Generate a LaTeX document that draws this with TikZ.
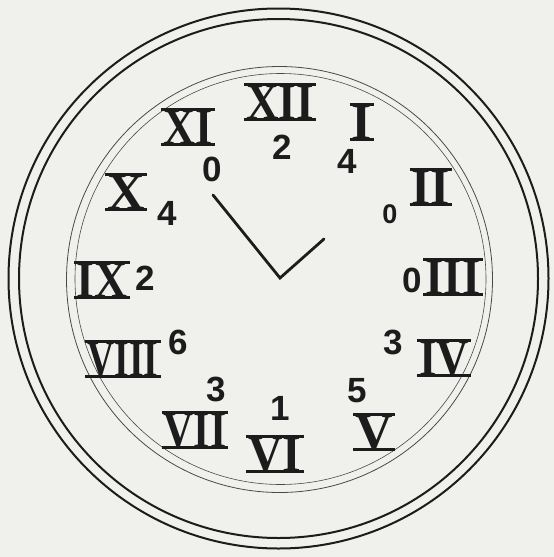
\documentclass[tikz,border=0pt]{standalone}
\usepackage{fontspec}
\setmainfont{Liberation Serif}
\newfontfamily\digitfont{Liberation Sans}
\usepackage{graphicx}
\definecolor{paper}{RGB}{240,240,237}
\definecolor{ink}{RGB}{28,28,28}
\newcommand\rsq[2]{\scalebox{#1}[1]{#2}}
\tikzset{
  numbar/.style={draw=ink, line width=2.4pt},
  romnum/.style={inner sep=0pt, text height=34.4pt, text depth=0pt, text=ink,
    font=\fontsize{52}{52}\selectfont\bfseries},
  digit/.style={inner sep=0pt, text height=25pt, text depth=0pt, text=ink,
    font=\digitfont\fontsize{35}{35}\selectfont\bfseries},
  smalldigit/.style={digit, text height=19.3pt, font=\digitfont\fontsize{27}{27}\selectfont\bfseries},
  rimline/.style={draw=ink, line width=2pt},
  faceline/.style={draw=ink!80, line width=0.8pt},
  hand/.style={draw=ink, line width=2.8pt, line cap=round, line join=miter}
}
\begin{document}
\begin{tikzpicture}[x=1pt, y=-1pt]
\fill[paper] (0,0) rectangle (554,557);
\useasboundingbox (0,0) rectangle (554,557);
% rims
\coordinate (c) at (278.5,278.5);
\draw[rimline] (c) circle[radius=270pt];
\draw[rimline] (c) circle[radius=259.5pt];
\draw[faceline] (279.5,279.5) circle[radius=213pt];
\draw[faceline, line width=0.6pt] (280.5,279) circle[radius=205.5pt];
% hands
\coordinate (pivot) at (280,278);
\coordinate (mintip) at (213,195);
\coordinate (hourtip) at (324,239);
\draw[hand] (mintip) -- (pivot) -- (hourtip);
% roman numerals
\node[romnum] (r12) at (280,102) {\rsq{0.87}{XII}};
\node[romnum] (r1)  at (362,122) {I};
\node[romnum] (r2)  at (431,187) {\rsq{0.95}{II}};
\node[romnum] (r3)  at (453,277) {\rsq{0.9}{III}};
\node[romnum] (r4)  at (444,358) {\rsq{0.86}{IV}};
\node[romnum] (r5)  at (374,432) {V};
\node[romnum] (r6)  at (275,454) {\rsq{0.92}{VI}};
\node[romnum] (r7)  at (195,430) {\rsq{0.8}{VII}};
\node[romnum] (r8)  at (123,359) {\rsq{0.72}{VIII}};
\node[romnum] (r9)  at (102,280) {\rsq{0.88}{IX}};
\node[romnum] (r10) at (126,192) {X};
\node[romnum] (r11) at (188,127) {\rsq{0.85}{XI}};
\foreach \n in {r1,r2,r3,r4,r5,r6,r7,r8,r9,r10,r11,r12} {
  \draw[numbar] ([xshift=-2pt]\n.north west) -- ([xshift=2pt]\n.north east);
  \draw[numbar] ([xshift=-2pt]\n.south west) -- ([xshift=2pt]\n.south east);
}
% digits
\node[digit] (d12) at (282,147) {2};
\node[digit] (d1)  at (347,161) {4};
\node[smalldigit] (d2) at (390,214) {0};
\node[digit] (d3)  at (412,280) {0};
\node[digit] (d4)  at (393,342) {3};
\node[digit] (d5)  at (357,390) {5};
\node[digit] (d6)  at (280,408) {1};
\node[digit] (d7)  at (216,389) {3};
\node[digit] (d8)  at (178,342) {6};
\node[digit] (d9)  at (145,278) {2};
\node[digit] (d10) at (167,213) {4};
\node[digit] (d11) at (212,169) {0};
\end{tikzpicture}
\end{document}
